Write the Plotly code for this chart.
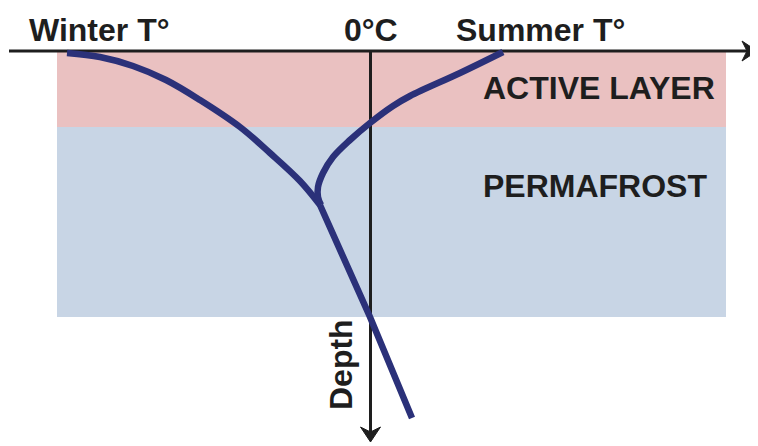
import plotly.graph_objects as go

# Diagram coordinates (pixel-like units: x = temperature axis, y = depth, downward)
winter_x = [67, 100, 133, 166, 200, 240, 270, 300, 320]
winter_y = [53, 57, 66, 80, 100, 127, 153, 181, 205]
deep_x = [320, 370, 412]
deep_y = [205, 317, 418]
summer_x = [503, 460, 410, 393, 370, 350, 333, 323, 318, 318, 321]
summer_y = [52, 73, 96, 106, 123, 140, 157, 173, 187, 197, 205]

# layer bands (x0, x1, y0, y1)
active_band = [57, 726, 52, 127]
perma_band = [57, 726, 127, 317]

axis_labels = ["Winter T°", "0°C", "Summer T°"]
layer_labels = ["ACTIVE LAYER", "PERMAFROST"]
depth_label = "Depth"

NAVY = "#2b3179"
INK = "#1e1e1e"
FONT = "Liberation Sans, Arial, Helvetica, sans-serif"

fig = go.Figure()

for xs, ys, shp in [(winter_x, winter_y, "spline"), (deep_x, deep_y, "linear"),
                    (summer_x, summer_y, "spline")]:
    fig.add_trace(go.Scatter(x=xs, y=ys, mode="lines",
                             line=dict(color=NAVY, width=6.5, shape=shp, smoothing=1.0),
                             hoverinfo="skip", showlegend=False))

shapes = [
    dict(type="rect", x0=active_band[0], x1=active_band[1], y0=active_band[2], y1=active_band[3],
         fillcolor="#eac1c1", line=dict(width=0), layer="below"),
    dict(type="rect", x0=perma_band[0], x1=perma_band[1], y0=perma_band[2], y1=perma_band[3],
         fillcolor="#c8d5e5", line=dict(width=0), layer="below"),
    # horizontal axis
    dict(type="line", x0=9, x1=750, y0=51, y1=51, line=dict(color=INK, width=3), layer="below"),
    dict(type="path", path="M 742 41 L 757 51 L 742 61 L 747 51 Z",
         fillcolor=INK, line=dict(color=INK, width=1), layer="below"),
    # vertical axis
    dict(type="line", x0=370.5, x1=370.5, y0=50, y1=436, line=dict(color=INK, width=3), layer="below"),
    dict(type="path", path="M 360.5 427 L 370.5 442 L 380.5 427 L 370.5 432 Z",
         fillcolor=INK, line=dict(color=INK, width=1), layer="below"),
]

annotations = [
    dict(x=27, y=30, text=axis_labels[0], xanchor="left", yanchor="middle"),
    dict(x=371, y=30, text=axis_labels[1], xanchor="center", yanchor="middle"),
    dict(x=454, y=30, text=axis_labels[2], xanchor="left", yanchor="middle"),
    dict(x=481, y=88, text=layer_labels[0], xanchor="left", yanchor="middle"),
    dict(x=481, y=186, text=layer_labels[1], xanchor="left", yanchor="middle"),
    dict(x=341, y=365, text=depth_label, xanchor="center", yanchor="middle", textangle=-90),
]
for a in annotations:
    a.update(xref="x", yref="y", showarrow=False,
             font=dict(family=FONT, size=32, color=INK))
    a["text"] = "<b>" + a["text"] + "</b>"

# the page body has an 8px margin, so the figure is 750x438 and covers coordinates 8..758 / 8..446
fig.update_layout(
    width=750, height=438,
    margin=dict(l=0, r=0, t=0, b=0),
    paper_bgcolor="white", plot_bgcolor="white",
    xaxis=dict(range=[8, 758], visible=False, fixedrange=True),
    yaxis=dict(range=[446, 8], visible=False, fixedrange=True),
    shapes=shapes, annotations=annotations,
    showlegend=False,
)

fig.write_html("out.html")
